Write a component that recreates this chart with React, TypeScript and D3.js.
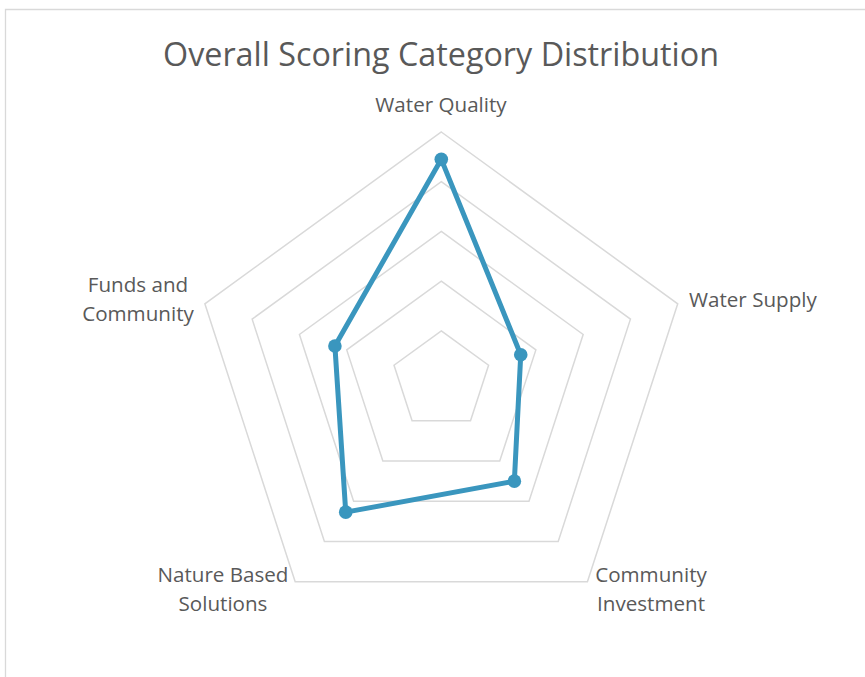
import React from "react";
import * as d3 from "d3";

const categories = ["Water Quality", "Water Supply", "Community Investment", "Nature Based Solutions", "Funds and Community"];
const values = [4.45, 1.68, 2.5, 3.27, 2.25];
const ringLevels = [1, 2, 3, 4, 5];
const maxValue = 5;

const W = 865, H = 677;
const cx = 441.3, cy = 380.6, R = 248.6;
const FONT = "'Open Sans', 'Noto Sans', sans-serif";
const TEXT = "#595959";
const GRID = "#D9D9D9";
const LINE = "#3A96BE";

export default function App() {
  const r = d3.scaleLinear().domain([0, maxValue]).range([0, R]);
  const angle = (i: number) => (i * 2 * Math.PI) / categories.length;
  const pt = (i: number, v: number): [number, number] => [cx + r(v) * Math.sin(angle(i)), cy - r(v) * Math.cos(angle(i))];
  const line = d3.line<number>().x((v, i) => pt(i, v)[0]).y((v, i) => pt(i, v)[1]).curve(d3.curveLinearClosed);
  const ring = (lv: number) => d3.line<number>().x((_, i) => pt(i, lv)[0]).y((_, i) => pt(i, lv)[1]).curve(d3.curveLinearClosed)(categories.map(() => lv));

  const labels: { lines: string[]; x: number; y: number; anchor: string }[] = [
    { lines: ["Water Quality"], x: 441, y: 112, anchor: "middle" },
    { lines: ["Water Supply"], x: 689, y: 307, anchor: "start" },
    { lines: ["Community", "Investment"], x: 651, y: 582, anchor: "middle" },
    { lines: ["Nature Based", "Solutions"], x: 223, y: 582, anchor: "middle" },
    { lines: ["Funds and", "Community"], x: 138, y: 292, anchor: "middle" },
  ];

  return (
    <svg width={W} height={H} style={{ position: "absolute", left: 0, top: 0 }}>
      <rect x={0} y={0} width={W} height={H} fill="#fff" />
      <path d={`M5.5,${H} V9.5 H${W}`} fill="none" stroke={GRID} strokeWidth={1.3} />
      <text x={441} y={66} textAnchor="middle" fontFamily={FONT} fontSize={32.3} fill={TEXT}>
        Overall Scoring Category Distribution
      </text>
      {ringLevels.map((lv) => (
        <path key={lv} d={ring(lv) || ""} fill="none" stroke={GRID} strokeWidth={1.5} />
      ))}
      <path d={line(values) || ""} fill="none" stroke={LINE} strokeWidth={5} strokeLinejoin="round" />
      {values.map((v, i) => {
        const [x, y] = pt(i, v);
        return <circle key={i} cx={x} cy={y} r={6.8} fill={LINE} />;
      })}
      {labels.map((l, i) => (
        <text key={i} x={l.x} y={l.y} textAnchor={l.anchor as any} fontFamily={FONT} fontSize={20.6} fill={TEXT}>
          {l.lines.map((s, j) => (
            <tspan key={j} x={l.x} dy={j === 0 ? 0 : 29}>{s}</tspan>
          ))}
        </text>
      ))}
    </svg>
  );
}
